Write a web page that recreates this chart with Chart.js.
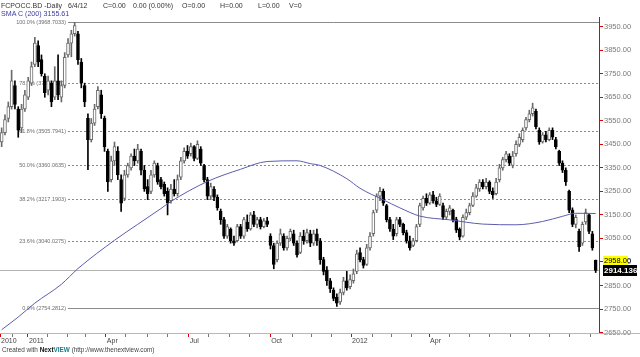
<!DOCTYPE html>
<html><head><meta charset="utf-8">
<script src="https://cdn.jsdelivr.net/npm/chart.js@4.4.1/dist/chart.umd.min.js"></script>
<style>
html,body{margin:0;padding:0;background:#fff;}
#wrap{position:relative;width:640px;height:357px;overflow:hidden;font-family:"Liberation Sans",Arial,sans-serif;}
canvas{position:absolute;left:0;top:0;}
.t{position:absolute;white-space:pre;line-height:1;}
.h{font-size:7px;color:#333;top:2px;}
</style></head><body>
<div id="wrap">
<canvas id="c" width="640" height="357"></canvas>
<div class="t h" style="left:1px">FCPOCC.BD -Daily</div>
<div class="t h" style="left:68px">6/4/12</div>
<div class="t h" style="left:103px">C=0.00</div>
<div class="t h" style="left:133px">0.00 (0.00%)</div>
<div class="t h" style="left:182px">O=0.00</div>
<div class="t h" style="left:220px">H=0.00</div>
<div class="t h" style="left:258px">L=0.00</div>
<div class="t h" style="left:289px">V=0</div>
<div class="t" style="left:1px;top:11px;font-size:7.1px;color:#3c3ca6">SMA C (200) 3155.61</div>
<div class="t" style="left:2px;top:347px;font-size:6.4px;color:#444">Created with <b style="color:#111">Next</b><b style="color:#1b7c86">VIEW</b> (http://www.thenextview.com)</div>
</div>
<script>
// ---- data ----
const openV = [
3460,3500,3560,3610,3700,3600,3520,3600,3650,3710,3790,3870,3810,3740,3680,3710,3650,3720,3650,3700,3830,3880,3920,3920,3800,3700,3560,3470,3540,3610,3660,3560,3420,3300,3380,3420,
3300,3220,3320,3350,3400,3380,3420,3340,3270,3250,3320,3360,3300,3280,3250,3210,3260,3240,3310,3380,3420,3410,3440,3390,3430,3360,3300,3230,3260,3225,3165,3130,3060,3090,3040,3040,
3100,3060,3120,3090,3150,3110,3130,3100,3125,3060,3020,2960,3030,3060,3010,3050,3070,3030,2990,3060,3040,3070,3030,3070,3040,2960,2915,2870,2830,2800,2780,2820,2870,2845,2870,2910,
2990,2960,2940,3010,3070,3170,3230,3250,3190,3130,3090,3070,3130,3110,3075,3040,3020,3040,3110,3180,3220,3200,3235,3210,3195,3190,3140,3165,3170,3130,3090,3060,3140,3160,3190,3230,
3260,3290,3270,3290,3250,3240,3300,3350,3385,3400,3360,3410,3450,3470,3520,3555,3580,3590,3510,3460,3490,3470,3510,3470,3420,3370,3340,3250,3170,3110,3080,3030,3120,3150,3070,2958];
const highV = [
3520,3575,3630,3765,3720,3610,3620,3680,3735,3800,3905,3890,3830,3750,3740,3720,3780,3830,3720,3840,3900,3935,3969,3930,3815,3710,3580,3560,3620,3695,3680,3570,3430,3400,3460,3440,
3320,3340,3370,3410,3430,3450,3430,3360,3300,3340,3380,3370,3310,3290,3265,3280,3300,3320,3395,3435,3445,3455,3445,3465,3440,3365,3310,3285,3270,3235,3175,3140,3110,3095,3060,3110,
3110,3140,3150,3160,3165,3140,3140,3135,3140,3070,3030,3040,3090,3070,3060,3090,3085,3040,3075,3085,3090,3085,3085,3090,3050,2970,2930,2880,2840,2815,2835,2885,2910,2895,2920,3000,
3010,2970,3025,3075,3170,3240,3267,3260,3195,3140,3110,3140,3140,3115,3085,3060,3050,3110,3200,3230,3240,3245,3250,3225,3240,3200,3175,3190,3175,3140,3095,3150,3175,3200,3245,3280,
3300,3300,3305,3295,3265,3305,3365,3395,3420,3410,3420,3465,3495,3520,3565,3595,3625,3600,3520,3500,3505,3520,3520,3480,3425,3380,3350,3255,3180,3150,3090,3120,3175,3155,3080,2958];
const lowV = [
3440,3490,3545,3600,3600,3480,3500,3590,3640,3700,3780,3780,3740,3650,3660,3610,3640,3640,3630,3690,3820,3822,3910,3790,3690,3610,3342,3460,3530,3600,3560,3420,3250,3290,3360,3300,
3165,3210,3310,3340,3360,3370,3320,3250,3215,3240,3310,3280,3260,3230,3150,3200,3230,3230,3300,3370,3390,3400,3380,3385,3360,3290,3215,3215,3210,3170,3110,3050,3050,3030,3020,3035,
3050,3050,3080,3085,3100,3095,3090,3095,3100,3005,2921,2950,3020,3000,3000,3040,3020,2970,2985,3025,3030,3015,3020,3020,2940,2895,2850,2820,2785,2761,2770,2810,2830,2835,2860,2900,
2950,2924,2935,3000,3060,3160,3210,3190,3120,3080,3045,3060,3100,3065,3030,3000,3015,3035,3100,3170,3190,3195,3200,3185,3190,3130,3130,3150,3120,3075,3044,3055,3130,3150,3185,3225,
3250,3260,3260,3240,3220,3235,3290,3340,3375,3360,3350,3400,3440,3460,3510,3545,3570,3515,3450,3455,3460,3465,3470,3430,3360,3330,3275,3160,3100,3095,2995,3020,3110,3070,3000,2905];
const closeV = [
3500,3555,3610,3720,3620,3510,3600,3660,3720,3780,3880,3800,3750,3670,3720,3630,3720,3660,3700,3820,3880,3920,3955,3810,3710,3630,3470,3540,3600,3680,3580,3440,3290,3380,3440,3320,
3200,3320,3360,3400,3380,3430,3340,3260,3240,3320,3370,3290,3270,3240,3200,3260,3240,3300,3380,3420,3400,3440,3390,3450,3370,3300,3230,3270,3225,3180,3130,3060,3100,3040,3030,3100,
3060,3130,3090,3150,3110,3130,3100,3125,3110,3020,2940,3030,3070,3010,3050,3080,3030,2980,3060,3040,3075,3030,3070,3040,2960,2910,2870,2835,2795,2775,2820,2870,2840,2875,2900,2985,
2960,2935,3010,3060,3160,3230,3250,3200,3130,3090,3060,3130,3110,3075,3040,3010,3040,3100,3190,3220,3200,3235,3210,3195,3230,3140,3165,3180,3130,3085,3055,3140,3160,3190,3230,3265,
3290,3270,3290,3250,3235,3290,3350,3385,3410,3370,3400,3450,3480,3510,3555,3580,3605,3525,3460,3490,3470,3510,3480,3440,3370,3340,3290,3170,3110,3140,3015,3110,3160,3080,3010,2914.136];

// SMA(200) read at candle indices
const smaIdx = [0,5,10,18,23,34,41,48,51,62,72,80,89,93,96,104,108,115,120,126,135,145,155,163,169,173,179];
const smaVal = [2662,2716,2775,2855,2922,3042,3110,3177,3207,3292,3344,3377,3380,3368,3360,3304,3263,3214,3180,3145,3129,3111,3108,3122,3144,3157,3156];

// Fibonacci retracement levels
const fibPct = [100.0, 78.6, 61.8, 50.0, 38.2, 23.6, 0.0];
const fibVal = [3968.7033, 3708.8170, 3505.7941, 3360.0635, 3217.1903, 3040.0275, 2754.2812];

const lastPrice = 2914.136;
const markPrice = 2958.00;

// axis ticks
const xMajorIdx = [-0.5, 7.9, 31.4, 56.4, 80.9, 105.3, 128.8];
const xMajorLabels = ['2010','2011','Apr','Jul','Oct','2012','Apr'];
const xMinorIdx = [3.4,13.7,19.7,25.4,37.2,43.8,50.1,62.2,68.8,74.8,87.5,93.5,99.5,111.6,117.6,123.6,135.1,141.1,147.1,153.2,159.2,165.2,171.2,177.3];
const yTicks = [2650,2700,2750,2800,2850,2900,2950,3000,3050,3100,3150,3200,3250,3300,3350,3400,3450,3500,3550,3600,3650,3700,3750,3800,3850,3900,3950];

// ---- build ----
const FONT = '"Liberation Sans", Arial, sans-serif';
const up = closeV.map((c,i)=> c >= openV[i]);
const wicks = openV.map((o,i)=>({x:i, y:[lowV[i], highV[i]]}));
const bodies = openV.map((o,i)=>({x:i, y:[o, closeV[i]]}));
const smaPts = smaIdx.map((x,i)=>({x, y:smaVal[i]}));
const allXTicks = xMajorIdx.concat(xMinorIdx).sort((a,b)=>a-b);
const majorLabel = v => { const k = xMajorIdx.findIndex(m=>Math.abs(m-v)<1e-6); return k>=0 ? xMajorLabels[k] : ''; };

const fibPlugin = {
  id:'fib',
  beforeDatasetsDraw(chart){
    const {ctx, chartArea:a, scales:{y}} = chart;
    ctx.save();
    const ly = Math.round(y.getPixelForValue(lastPrice))+0.5;
    ctx.strokeStyle = '#b4b4b4'; ctx.lineWidth = 1;
    ctx.beginPath(); ctx.moveTo(a.left, ly); ctx.lineTo(a.right, ly); ctx.stroke();
    ctx.font = '5.5px ' + FONT;
    ctx.textAlign = 'right'; ctx.textBaseline = 'middle';
    fibPct.forEach((p,i)=>{
      const yy = Math.round(y.getPixelForValue(fibVal[i]))+0.5;
      const solid = (p === 100 || p === 0);
      ctx.strokeStyle = '#8a8a8a';
      ctx.setLineDash(solid ? [] : [2,2]);
      ctx.beginPath(); ctx.moveTo(a.left+68, yy); ctx.lineTo(a.right, yy); ctx.stroke();
      ctx.fillStyle = '#6e6e6e';
      ctx.fillText(p.toFixed(1)+'% ('+fibVal[i].toFixed(4)+')', a.left+66, yy);
    });
    ctx.restore();
  },
  afterDraw(chart){
    const {ctx, chartArea:a, scales:{y}} = chart;
    ctx.save();
    ctx.strokeStyle = '#f0a0a0'; ctx.lineWidth = 1;
    ctx.beginPath(); ctx.moveTo(a.right, a.bottom+0.5); ctx.lineTo(640, a.bottom+0.5); ctx.stroke();
    ctx.strokeStyle = '#e00000';
    ctx.beginPath(); ctx.moveTo(a.right+0.5, a.top-5); ctx.lineTo(a.right+0.5, a.top); ctx.stroke();
    const my = y.getPixelForValue(markPrice);
    ctx.fillStyle = '#ffff00'; ctx.fillRect(a.right+4, Math.round(my)-4, 25, 9);
    ctx.fillStyle = '#000'; ctx.font = '7.5px ' + FONT; ctx.textAlign='left'; ctx.textBaseline='middle';
    ctx.fillText(markPrice.toFixed(2), a.right+5, Math.round(my)+0.5);
    const ly = y.getPixelForValue(lastPrice);
    ctx.fillStyle = '#000'; ctx.fillRect(a.right+4, Math.round(ly)-5, 34, 11);
    ctx.fillStyle = '#fff'; ctx.font = 'bold 8px ' + FONT;
    ctx.fillText(lastPrice.toFixed(3), a.right+5, Math.round(ly)+0.5);
    ctx.restore();
  }
};

new Chart(document.getElementById('c'), {
  type:'bar',
  data:{datasets:[
    {type:'line', data:smaPts, borderColor:'#5c5cae', borderWidth:1, pointRadius:0, tension:0.4, cubicInterpolationMode:'monotone', order:0},
    {type:'bar', data:bodies, backgroundColor:up.map(u=>u?'#ffffff':'#000000'), borderColor:up.map(u=>u?'#6a6a6a':'#000000'), borderWidth:1, borderSkipped:false, barThickness:3, grouped:false, order:1},
    {type:'bar', data:wicks, backgroundColor:up.map(u=>u?'#6a6a6a':'#000000'), barThickness:1, grouped:false, order:2}
  ]},
  options:{
    responsive:false, animation:false, devicePixelRatio:1,
    layout:{padding:{top:22,left:0,right:0,bottom:0}},
    plugins:{legend:{display:false}, tooltip:{enabled:false}},
    scales:{
      x:{type:'linear', min:-0.5, max:180, offset:false, position:'bottom',
        grid:{display:true, drawOnChartArea:false, offset:false, tickLength:4, lineWidth:1,
          color:c=> majorLabel(c.tick ? c.tick.value : 0) ? '#e00000' : '#777'},
        border:{color:'#f0a0a0', width:1},
        ticks:{autoSkip:false, maxRotation:0, minRotation:0, align:'start', padding:0, labelOffset:1,
          font:{family:FONT, size:7}, color:'#444', callback:v=>majorLabel(v)},
        afterBuildTicks:s=>{ s.ticks = allXTicks.map(v=>({value:v})); },
        afterFit:s=>{ s.height = 24; }
      },
      y:{type:'linear', position:'right', min:2648, max:3970, beginAtZero:false,
        grid:{display:true, drawOnChartArea:false, tickLength:4, color:'#e00000'},
        border:{color:'#e00000', width:1},
        ticks:{padding:1, font:{family:FONT, size:7.5}, color:'#7a7a7a', callback:v=>Number(v).toFixed(2)},
        afterBuildTicks:s=>{ s.ticks = yTicks.map(v=>({value:v})); },
        afterFit:s=>{ s.width = 41; }
      }
    }
  },
  plugins:[fibPlugin]
});
</script>
</body></html>
